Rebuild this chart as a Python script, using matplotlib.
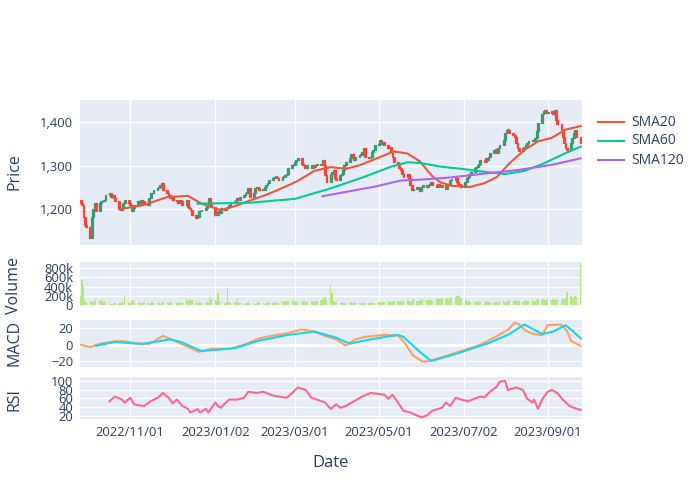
import numpy as np
import pandas as pd
import matplotlib
matplotlib.use('Agg')
import matplotlib.pyplot as plt
from matplotlib.lines import Line2D
from matplotlib.ticker import FuncFormatter

plt.rcParams['font.family'] = ['Open Sans', 'DejaVu Sans']

# ---- data ----
dates = pd.bdate_range('2022-09-26', '2023-09-25')
first_open = 1222
close = [
    1215, 1210, 1183, 1165, 1160, 1134, 1183, 1200, 1215, 1195,
    1214, 1218, 1218, 1222, 1233, 1237, 1229, 1233, 1225, 1218,
    1202, 1198, 1202, 1214, 1221, 1214, 1210, 1195, 1202, 1210,
    1218, 1210, 1221, 1218, 1214, 1210, 1225, 1237, 1237, 1244,
    1248, 1252, 1256, 1260, 1244, 1237, 1233, 1225, 1229, 1221,
    1218, 1214, 1221, 1218, 1210, 1221, 1206, 1202, 1198, 1187,
    1179, 1183, 1195, 1195, 1198, 1202, 1210, 1225, 1214, 1206,
    1187, 1187, 1195, 1191, 1202, 1198, 1202, 1206, 1210, 1214,
    1218, 1221, 1225, 1221, 1229, 1233, 1237,
    1240, 1248, 1229, 1237, 1248, 1252, 1248, 1244, 1244, 1252,
    1256, 1260, 1267, 1271, 1275, 1275, 1271, 1267, 1275, 1275,
    1279, 1282, 1294, 1302, 1302, 1309, 1313, 1317, 1305, 1302,
    1294, 1294, 1302, 1294, 1302, 1298, 1302, 1305, 1302, 1313,
    1302, 1279, 1263, 1282, 1286, 1290, 1271, 1267, 1279, 1282,
    1290, 1302, 1309, 1317, 1328, 1321, 1313, 1321, 1325, 1325,
    1332, 1340, 1321, 1317, 1321, 1332, 1336, 1347, 1351, 1359,
    1351, 1355, 1347, 1340, 1344, 1332, 1321, 1309, 1302, 1294,
    1290, 1282, 1275, 1282, 1271, 1256, 1244,
    1247, 1251, 1247, 1243, 1251, 1255, 1251, 1255, 1259, 1263,
    1255, 1251, 1259, 1255, 1251, 1255, 1247, 1255, 1259, 1267,
    1267, 1271, 1263, 1259, 1255, 1251, 1263, 1271, 1274, 1282,
    1286, 1294, 1298, 1302, 1305, 1313, 1309, 1317, 1313, 1321,
    1329, 1336, 1336, 1329, 1340, 1348, 1360, 1375, 1383, 1383,
    1375, 1371, 1367, 1352, 1340, 1333, 1340, 1344, 1348, 1352,
    1356, 1360, 1356, 1364, 1379, 1398, 1418, 1426, 1429, 1422,
    1422, 1426, 1418, 1429, 1406, 1395, 1383, 1367, 1352, 1340,
    1336, 1352, 1364, 1375, 1383, 1367, 1352,
]
volume_k = [
    200, 550, 380, 110, 70, 60, 80, 70, 90, 130,
    100, 80, 120, 70, 60, 40, 30, 30, 40, 50,
    40, 50, 60, 70, 220, 60, 40, 90, 100, 60,
    50, 60, 50, 40, 60, 50, 40, 50, 60, 40,
    50, 40, 30, 50, 60, 40, 50, 60, 50, 30,
    40, 60, 50, 40, 60, 140, 90, 120, 100, 110,
    50, 40, 50, 60, 40, 50, 60, 40, 170, 140,
    110, 90, 250, 60, 40, 50, 60, 370, 70, 40,
    50, 60, 150, 50, 40, 30, 50, 40, 60, 50,
    40, 30, 40, 60, 50, 40, 30, 50, 40, 60,
    50, 70, 60, 40, 50, 60, 80, 70, 90, 80,
    100, 70, 90, 60, 80, 70, 90, 80, 70, 60,
    90, 80, 70, 90, 80, 100, 120, 150, 170, 130,
    430, 260, 80, 70, 60, 50, 60, 40, 50, 40,
    60, 70, 50, 40, 60, 50, 40, 30, 60, 50,
    40, 60, 50, 40, 50, 60, 70, 50, 60, 70,
    80, 60, 70, 60, 80, 90, 70, 80, 60, 90,
    100, 80, 90, 70, 120, 80, 90, 100, 80, 140,
    110, 100, 120, 110, 90, 130, 150, 120, 140, 160,
    120, 150, 130, 160, 180, 170, 190, 210, 200, 150,
    120, 100, 90, 80, 70, 60, 70, 80, 60, 70,
    50, 60, 80, 70, 60, 50, 70, 60, 50, 60,
    80, 70, 60, 90, 100, 80, 90, 100, 80, 90,
    70, 90, 100, 80, 90, 100, 80, 90, 110, 120,
    130, 120, 110, 120, 130, 110, 120, 110, 100, 120,
    110, 130, 120, 150, 290, 200, 150, 170, 200, 180, 900,
]

sma20_dates = ['2022-10-24', '2022-11-11', '2022-11-28', '2022-12-13', '2022-12-23',
               '2023-01-06', '2023-01-16', '2023-01-27', '2023-02-07', '2023-02-17',
               '2023-03-03', '2023-03-15', '2023-03-27', '2023-04-07', '2023-04-17',
               '2023-05-02', '2023-05-12', '2023-05-22', '2023-05-31', '2023-06-09',
               '2023-06-15', '2023-06-23', '2023-07-06', '2023-07-17', '2023-07-26',
               '2023-08-04', '2023-08-15', '2023-08-25', '2023-09-04', '2023-09-14',
               '2023-09-25']
sma20 = [1200, 1210, 1228, 1231, 1213, 1198, 1207, 1220, 1232, 1245,
         1265, 1288, 1297, 1293, 1301, 1320, 1333, 1328, 1310, 1276,
         1262, 1254, 1251, 1260, 1274, 1305, 1336, 1356, 1364, 1383, 1391]

sma60_dates = ['2022-12-20', '2023-01-27', '2023-03-01', '2023-03-27', '2023-04-21',
               '2023-05-10', '2023-05-22', '2023-06-01', '2023-06-15', '2023-06-30',
               '2023-07-17', '2023-08-01', '2023-08-15', '2023-08-29', '2023-09-14',
               '2023-09-25']
sma60 = [1213, 1215, 1224, 1248, 1275, 1298, 1308, 1306, 1298, 1293,
         1286, 1281, 1288, 1305, 1329, 1344]

sma120_dates = ['2023-03-21', '2023-04-28', '2023-05-17', '2023-05-31', '2023-06-22',
                '2023-07-17', '2023-08-10', '2023-09-04', '2023-09-25']
sma120 = [1230, 1252, 1266, 1268, 1273, 1282, 1290, 1302, 1317]

macd_dates = ['2022-09-26', '2022-10-03', '2022-10-10', '2022-10-21', '2022-10-28',
              '2022-11-04', '2022-11-15', '2022-11-25', '2022-12-07', '2022-12-21',
              '2022-12-30', '2023-01-12', '2023-01-23', '2023-02-03', '2023-02-15',
              '2023-02-24', '2023-03-06', '2023-03-15', '2023-03-23', '2023-03-31',
              '2023-04-07', '2023-04-14', '2023-04-21', '2023-05-05', '2023-05-15',
              '2023-05-19', '2023-05-26', '2023-06-02', '2023-06-08', '2023-06-16',
              '2023-06-30', '2023-07-14', '2023-07-25', '2023-08-03', '2023-08-08',
              '2023-08-11', '2023-08-16', '2023-08-22', '2023-08-28', '2023-09-01',
              '2023-09-11', '2023-09-15', '2023-09-18', '2023-09-22', '2023-09-25']
macd = [0, -3, 1.3, 4.3, 4.3, 2, 1, 10.7, 2, -8.6,
        -5, -5, 0, 7.7, 11.6, 14, 18.5, 16, 10.7, 6.5,
        -1, 6.5, 9.5, 12, 11, 4.3, -13, -20.6, -19, -15,
        -7.7, 0, 9.5, 18, 26.7, 25, 17, 13, 11.6, 23.7,
        24.5, 17, 4.3, 1.3, -1.3]

signal_dates = ['2022-10-07', '2022-10-21', '2022-10-31', '2022-11-10', '2022-11-30',
                '2022-12-08', '2022-12-23', '2023-01-16', '2023-02-03', '2023-02-23',
                '2023-03-15', '2023-03-31', '2023-04-10', '2023-04-25', '2023-05-15',
                '2023-05-19', '2023-05-31', '2023-06-08', '2023-06-27', '2023-07-20',
                '2023-08-03', '2023-08-15', '2023-08-28', '2023-09-05', '2023-09-14',
                '2023-09-19', '2023-09-25']
signal = [-1.3, 3.4, 2, 1, 6.5, 3.4, -7.7, -4.3, 5, 11.6,
          16, 8.6, 1.3, 6.5, 12, 9.5, -8.6, -19.8, -10.7, 2,
          12, 24.5, 13, 16, 23.7, 17, 7.7]

rsi_dates = ['2022-10-17', '2022-10-21', '2022-10-26', '2022-10-28', '2022-11-01',
             '2022-11-04', '2022-11-07', '2022-11-11', '2022-11-16', '2022-11-21',
             '2022-11-25', '2022-11-29', '2022-12-02', '2022-12-05', '2022-12-09',
             '2022-12-13', '2022-12-15', '2022-12-20', '2022-12-22', '2022-12-26',
             '2022-12-28', '2023-01-02', '2023-01-04', '2023-01-06', '2023-01-12',
             '2023-01-18', '2023-01-23', '2023-01-26', '2023-02-01', '2023-02-06',
             '2023-02-13', '2023-02-17', '2023-02-23', '2023-02-27', '2023-03-03',
             '2023-03-09', '2023-03-13', '2023-03-17', '2023-03-23', '2023-03-27',
             '2023-03-31', '2023-04-03', '2023-04-07', '2023-04-13', '2023-04-19',
             '2023-04-25', '2023-05-01', '2023-05-05', '2023-05-08', '2023-05-11',
             '2023-05-15', '2023-05-19', '2023-05-24', '2023-05-29', '2023-06-01',
             '2023-06-05', '2023-06-09', '2023-06-16', '2023-06-19', '2023-06-22',
             '2023-06-26', '2023-06-30', '2023-07-05', '2023-07-10', '2023-07-14',
             '2023-07-17', '2023-07-21', '2023-07-26', '2023-07-28', '2023-08-01',
             '2023-08-03', '2023-08-09', '2023-08-14', '2023-08-17', '2023-08-21',
             '2023-08-22', '2023-08-25', '2023-08-28', '2023-09-01', '2023-09-04',
             '2023-09-08', '2023-09-12', '2023-09-17', '2023-09-20', '2023-09-25']
rsi = [53, 64, 57, 50, 61, 46, 44, 42, 53, 61,
       72, 61, 48, 57, 42, 36, 27, 35, 27, 36,
       27, 50, 42, 38, 57, 57, 61, 75, 72, 75,
       66, 64, 61, 72, 85, 79, 61, 57, 50, 35,
       46, 38, 42, 53, 64, 72, 70, 68, 59, 68,
       50, 31, 27, 20, 16, 20, 31, 38, 50, 42,
       61, 57, 53, 59, 64, 62, 75, 87, 98, 100,
       79, 85, 79, 59, 50, 57, 36, 57, 75, 79,
       72, 57, 42, 38, 33]

tick_dates = ['2022-11-01', '2023-01-02', '2023-03-01', '2023-05-01', '2023-07-02', '2023-09-01']
tick_labels = ['2022/11/01', '2023/01/02', '2023/03/01', '2023/05/01', '2023/07/02', '2023/09/01']

# ---- styling ----
bg = '#E5ECF6'
txt = '#2a3f5f'
up_col = '#3D9970'
down_col = '#FF4136'
W, H = 700, 500
tick_fs = 9.4


def px_axes(fig, top, bottom, left=80, right=582):
    return fig.add_axes([left / W, 1 - bottom / H, (right - left) / W, (bottom - top) / H])


def style(ax):
    ax.set_facecolor(bg)
    for s in ax.spines.values():
        s.set_visible(False)
    ax.grid(True, color='white', linewidth=1)
    ax.set_axisbelow(True)
    ax.tick_params(length=0, labelsize=tick_fs, colors=txt, pad=5)
    ax.set_xticks(pd.to_datetime(tick_dates))
    ax.set_xlim(pd.Timestamp('2022-09-25 12:00'), pd.Timestamp('2023-09-26 00:00'))


fig = plt.figure(figsize=(7, 5), dpi=100)
ax_p = px_axes(fig, 100, 245)
ax_v = px_axes(fig, 262, 305)
ax_m = px_axes(fig, 320, 367)
ax_r = px_axes(fig, 377, 419)
for a in (ax_p, ax_v, ax_m, ax_r):
    style(a)

# candles (body spans previous close -> close)
close_arr = np.array(close, dtype=float)
prev = np.concatenate([[first_open], close_arr[:-1]])
rising = close_arr >= prev
cols = np.where(rising, up_col, down_col)
body = np.maximum(np.abs(close_arr - prev), 1.5)
ax_p.bar(dates, body, bottom=np.minimum(prev, close_arr), width=1.3,
         color=cols, edgecolor=cols, linewidth=0.9, zorder=2)
ax_p.plot(pd.to_datetime(sma20_dates), sma20, color='#EF553B', lw=1.5, zorder=3)
ax_p.plot(pd.to_datetime(sma60_dates), sma60, color='#00CC96', lw=1.5, zorder=3)
ax_p.plot(pd.to_datetime(sma120_dates), sma120, color='#AB63FA', lw=1.5, zorder=3)
ax_p.set_ylim(1118, 1451)
ax_p.set_yticks([1200, 1300, 1400])
ax_p.yaxis.set_major_formatter(FuncFormatter(lambda v, p: f'{v:,.0f}'))
ax_p.set_xticklabels([])

# volume
ax_v.bar(dates, np.array(volume_k) * 1000, width=1.0, color='#B6E880', linewidth=0, zorder=2)
ax_v.set_ylim(0, 930000)
ax_v.set_yticks([0, 200000, 400000, 600000, 800000])
ax_v.set_yticklabels(['0', '200k', '400k', '600k', '800k'])
ax_v.set_xticklabels([])

# macd
ax_m.axhline(0, color='white', lw=2, zorder=1)
ax_m.plot(pd.to_datetime(macd_dates), macd, color='#FFA15A', lw=1.5, zorder=3)
ax_m.plot(pd.to_datetime(signal_dates), signal, color='#19D3F3', lw=1.5, zorder=3)
ax_m.set_ylim(-27, 30)
ax_m.set_yticks([-20, 0, 20])
ax_m.set_yticklabels(['\u221220', '0', '20'])
ax_m.set_xticklabels([])

# rsi
ax_r.plot(pd.to_datetime(rsi_dates), rsi, color='#FF6692', lw=1.5, zorder=3)
ax_r.set_ylim(12, 109)
ax_r.set_yticks([20, 40, 60, 80, 100])
ax_r.set_xticklabels(tick_labels)

# axis titles
title_fs = 11.5
fig.text(14 / W, 1 - 172 / H, 'Price', rotation=90, ha='center', va='center', color=txt, fontsize=title_fs)
fig.text(14 / W, 1 - 285 / H, 'Volume', rotation=90, ha='center', va='center', color=txt, fontsize=title_fs)
fig.text(14 / W, 1 - 343 / H, 'MACD', rotation=90, ha='center', va='center', color=txt, fontsize=title_fs)
fig.text(14 / W, 1 - 400 / H, 'RSI', rotation=90, ha='center', va='center', color=txt, fontsize=title_fs)
fig.text(331 / W, 1 - 463 / H, 'Date', ha='center', va='center', color=txt, fontsize=12)

# legend
for i, (name, c) in enumerate([('SMA20', '#EF553B'), ('SMA60', '#00CC96'), ('SMA120', '#AB63FA')]):
    y = 1 - (122 + 19 * i) / H
    fig.add_artist(Line2D([598 / W, 624 / W], [y, y], color=c, lw=1.5, transform=fig.transFigure))
    fig.text(631 / W, y, name, ha='left', va='center', color=txt, fontsize=10)

fig.savefig('out.png', dpi=100)
